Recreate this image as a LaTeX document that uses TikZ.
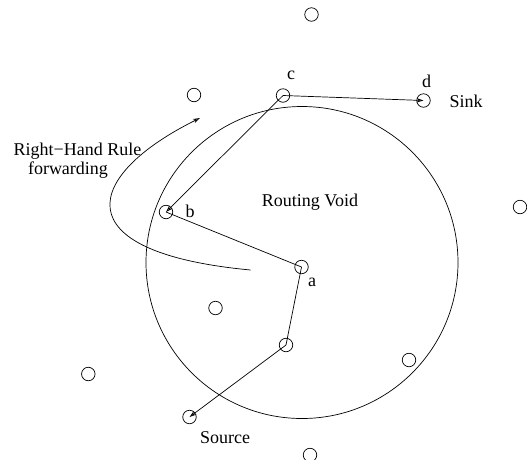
\documentclass[tikz,border=0pt]{standalone}
\usepackage{fontspec}
\setmainfont{Liberation Serif}
\usetikzlibrary{arrows.meta}
\begin{document}
\begin{tikzpicture}[x=1pt,y=-1pt,line width=0.7pt,
  sensor/.style={circle,draw,minimum size=13.5pt,inner sep=0pt},
  lbl/.style={font=\fontsize{18}{21}\selectfont,inner sep=0pt},
  fwd/.style={-{Stealth[length=7pt,width=4.5pt,open]}}]
\useasboundingbox (0,0) rectangle (527,459);
% routing void
\node[circle,draw,minimum size=312pt,inner sep=0pt] (void) at (302,262.5) {};
\node[lbl] (voidlbl) at (310,202) {Routing Void};
% sensors
\node[sensor] (n1) at (311.5,14.5) {};
\node[sensor] (n2) at (194,95) {};
\node[sensor] (n3) at (520,207) {};
\node[sensor] (n4) at (215.5,308) {};
\node[sensor] (n5) at (409,360) {};
\node[sensor] (n6) at (88.3,374) {};
\node[sensor] (n7) at (310,455) {};
\node[sensor] (c) at (283,95.5) {};
\node[sensor] (d) at (423.5,100.5) {};
\node[sensor] (b) at (166,212) {};
\node[sensor] (a) at (301.5,267) {};
\node[sensor] (e) at (286,345) {};
\node[sensor] (s) at (189.5,417) {};
% labels
\node[lbl] (clbl) at (291,75) {c};
\node[lbl] (dlbl) at (426.5,81) {d};
\node[lbl] (sinklbl) at (466,101) {Sink};
\node[lbl] (blbl) at (190,211) {b};
\node[lbl] (albl) at (312,282) {a};
\node[lbl] (srclbl) at (225,438) {Source};
\node[lbl] (rhr1) at (77.5,151) {Right−Hand Rule};
\node[lbl] (rhr2) at (68,170) {forwarding};
% path
\draw (b.center) -- (a.center);
\draw (a.center) -- (e.center);
\draw[fwd] (e.center) -- (s.center);
\draw[fwd] (c.center) -- (b.center);
\draw[fwd] (c.center) -- (d.center);
% right-hand rule arrow
\coordinate (rs) at (250.5,270);
\coordinate (re) at (200,118);
\draw[fwd] (rs) .. controls (60,252) and (85,175) .. (re);
\end{tikzpicture}
\end{document}
